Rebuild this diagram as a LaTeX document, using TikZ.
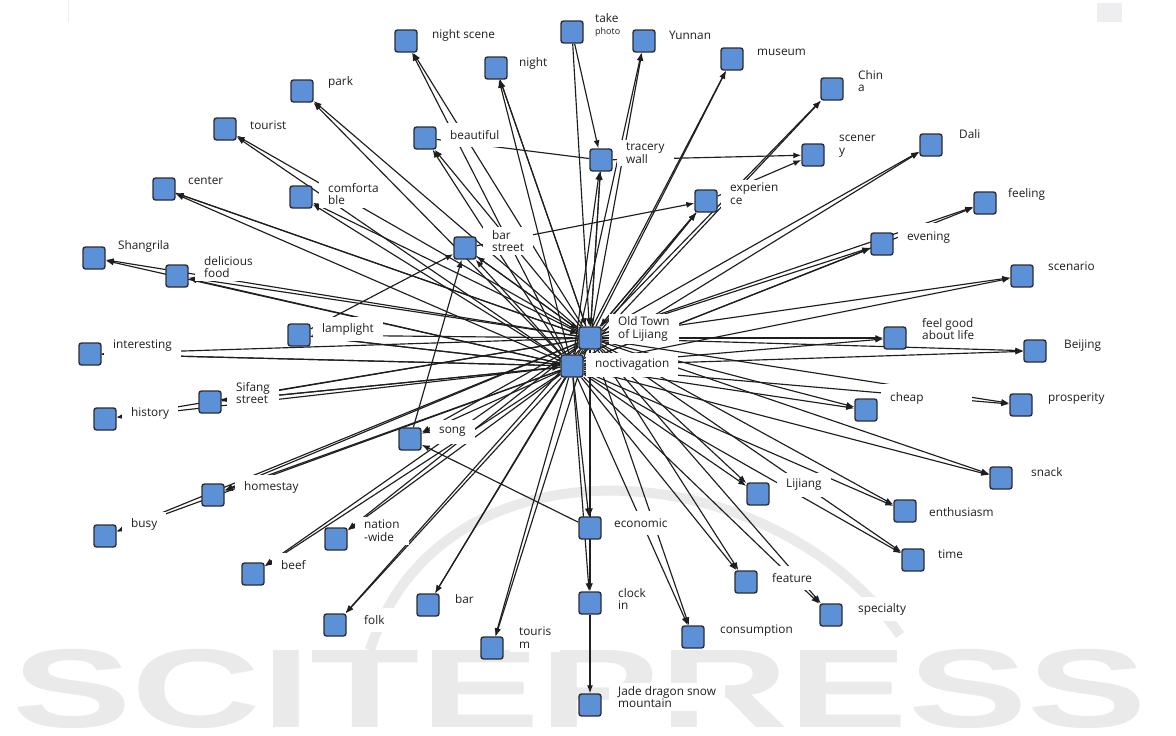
\documentclass[tikz,border=0pt]{standalone}
\usepackage{fontspec}
\setmainfont{Open Sans}
\newfontfamily\wmfont{Liberation Sans}
\usetikzlibrary{arrows.meta}
\definecolor{boxblue}{RGB}{92,145,215}
\definecolor{boxedge}{RGB}{45,45,50}
\definecolor{ink}{RGB}{30,30,30}
\definecolor{wmgray}{RGB}{234,234,234}
\definecolor{topgray}{RGB}{238,238,240}
\pgfdeclarelayer{wm}
\pgfdeclarelayer{bg}
\pgfsetlayers{wm,bg,main}
\tikzset{
  kbox/.style={draw=boxedge, fill=boxblue, line width=1.4pt, rounded corners=2.5pt, minimum size=22pt, inner sep=0pt},
  lbl/.style={anchor=west, fill=white, inner xsep=9pt, inner ysep=3pt, minimum height=24pt, align=left, font=\fontsize{11.8}{12.8}\selectfont, text=ink},
  e/.style={draw=ink, line width=1.15pt, -{Latex[length=8pt,width=6pt]}},
  p/.style={draw=ink, line width=1.15pt},
}
\begin{document}
\begin{tikzpicture}[x=1pt,y=-1pt]
\useasboundingbox (0,0) rectangle (1176,736);
\begin{pgfonlayer}{wm}
\fill[white] (0,0) rectangle (1176,736);
\fill[topgray] (1097,3) rectangle (1122,22);
\draw[topgray, line width=0.8pt] (68,0) -- (68,22);
\node[anchor=base west, inner sep=0pt, text=wmgray] (wm) at (12,727) {\scalebox{1.6}[1]{\wmfont\fontsize{112}{112}\selectfont\bfseries SCITEPRESS}};
\draw[wmgray, line width=10pt] (370,650) .. controls (440,430) and (770,450) .. (900,635);
\end{pgfonlayer}

% boxes
\node[kbox] (ns) at (406,41) {};
\node[kbox] (nt) at (496,68) {};
\node[kbox] (tp) at (572,32) {};
\node[kbox] (yn) at (644,41) {};
\node[kbox] (mu) at (732,59) {};
\node[kbox] (ch) at (832,89) {};
\node[kbox] (sc) at (813,155) {};
\node[kbox] (dl) at (931,145) {};
\node[kbox] (fe) at (985,203) {};
\node[kbox] (ev) at (882,244) {};
\node[kbox] (sr) at (1022,276) {};
\node[kbox] (fg) at (895,338) {};
\node[kbox] (bj) at (1035,351) {};
\node[kbox] (pr) at (1021,405) {};
\node[kbox] (cp) at (866,410) {};
\node[kbox] (sn) at (1001,478) {};
\node[kbox] (en) at (905,511) {};
\node[kbox] (tm) at (913,560) {};
\node[kbox] (sp) at (831,615) {};
\node[kbox] (ft) at (746,582) {};
\node[kbox] (lj) at (758,494) {};
\node[kbox] (cs) at (693,637) {};
\node[kbox] (jd) at (590,705) {};
\node[kbox] (ci) at (590,603) {};
\node[kbox] (ec) at (590,528) {};
\node[kbox] (tr) at (492,648) {};
\node[kbox] (br) at (428,605) {};
\node[kbox] (fk) at (335,625) {};
\node[kbox] (bf) at (253,574) {};
\node[kbox] (nw) at (336,539) {};
\node[kbox] (bs) at (105,536) {};
\node[kbox] (hs) at (213,495) {};
\node[kbox] (sg) at (410,439) {};
\node[kbox] (hi) at (105,419) {};
\node[kbox] (sf) at (210,402) {};
\node[kbox] (it) at (90,354) {};
\node[kbox] (lp) at (299,335) {};
\node[kbox] (sh) at (94,258) {};
\node[kbox] (df) at (177,276) {};
\node[kbox] (ce) at (164,189) {};
\node[kbox] (cf) at (301,197) {};
\node[kbox] (tu) at (225,129) {};
\node[kbox] (pk) at (302,91) {};
\node[kbox] (bt) at (425,138) {};
\node[kbox] (bst) at (465,248) {};
\node[kbox] (tw) at (601,160) {};
\node[kbox] (ex) at (706,201) {};
\node[kbox] (ot) at (590,338) {};
\node[kbox] (nv) at (572,366) {};

% labels
\node[lbl] (nsl) at (423,35) {night scene};
\node[lbl] (ntl) at (510,63) {night};
\node[lbl] (tpl) at (586,25) {take\\{\fontsize{9}{10}\selectfont photo}};
\node[lbl] (ynl) at (660,35) {Yunnan};
\node[lbl] (mul) at (748,52) {museum};
\node[lbl] (chl) at (849,81) {Chin\\a};
\node[lbl] (scl) at (830,146) {scener\\y};
\node[lbl] (dll) at (950,134) {Dali};
\node[lbl] (fel) at (999,194) {feeling};
\node[lbl, minimum height=30pt] (evl) at (898,238) {evening};
\node[lbl] (srl) at (1039,266) {scenario};
\node[lbl] (fgl) at (913,329) {feel good\\about life};
\node[lbl] (bjl) at (1055,346) {Beijing};
\node[lbl] (prl) at (1039,399) {prosperity};
\node[lbl, minimum height=28pt] (cpl) at (881,398) {cheap\hspace*{40pt}};
\node[lbl] (snl) at (1022,472) {snack};
\node[lbl] (enl) at (920,512) {enthusiasm};
\node[lbl] (tml) at (929,554) {time};
\node[lbl] (spl) at (849,609) {specialty};
\node[lbl] (ftl) at (763,578) {feature};
\node[lbl] (ljl) at (777,485) {Lijiang};
\node[lbl] (csl) at (711,631) {consumption};
\node[lbl] (jdl) at (609,697) {Jade dragon snow\\mountain};
\node[lbl] (cil) at (609,599) {clock\\in};
\node[lbl] (ecl) at (605,523) {economic};
\node[lbl] (trl) at (510,638) {touris\\m};
\node[lbl] (brl) at (446,599) {bar};
\node[lbl] (fkl) at (355,620) {folk};
\node[lbl] (bfl) at (272,565) {beef};
\node[lbl] (nwl) at (355,531) {nation\\-wide};
\node[lbl] (bsl) at (122,524) {busy};
\node[lbl] (hsl) at (235,487) {homestay};
\node[lbl] (sgl) at (430,432) {song};
\node[lbl] (hil) at (122,413) {history};
\node[lbl] (sfl) at (227,393) {Sifang\\street};
\node[lbl] (itl) at (104,346) {interesting};
\node[lbl] (lpl) at (313,329) {lamplight};
\node[lbl] (shl) at (109,246) {Shangrila};
\node[lbl] (dfl) at (195,267) {delicious\\food};
\node[lbl] (cel) at (179,181) {center};
\node[lbl] (cfl) at (319,194) {comforta\\ble};
\node[lbl] (tul) at (241,125) {tourist};
\node[lbl] (pkl) at (319,82) {park};
\node[lbl] (btl) at (441,135) {beautiful};
\node[lbl] (bstl) at (483,241) {bar\\street};
\node[lbl] (twl) at (617,153) {tracery\\wall};
\node[lbl] (exl) at (721,194) {experien\\ce};
\node[lbl] (otl) at (609,329) {Old Town\\of Lijiang};
\node[lbl] (nvl) at (586,365) {noctivagation};

% connectors
\begin{pgfonlayer}{bg}
\foreach \n in {ns,nt,yn,mu,ch,dl,fe,ev,sr,fg,bj,pr,cp,sn,en,tm,sp,ft,lj,cs,ci,ec,tr,br,fk,bf,nw,bs,hs,sg,hi,sf,it,lp,sh,df,ce,cf,tu,pk,bt,bst,tw,ex} {
  \draw[e] (ot) -- (\n);
  \draw[e] (nv) -- (\n);
}
\draw[e] (tp) -- (ot);
\draw[e] (tp) -- (tw);
\draw[p] (bt) -- (tw);
\draw[e] (tw) -- (sc);
\draw[e] (ex) -- (sc);
\draw[e] (bst) -- (ex);
\draw[e] (sg) -- (bst);
\draw[e] (lp) -- (bst);
\draw[e] (ec) -- (sg);
\draw[e] (ci) -- (jd);
\draw[e] (it) -- (nv);
\draw[e] (sf) -- (nv);
\draw[e] (lp) -- (nv);
\draw[e] (ce) -- (ot);
\draw[e] (bst) -- (ot);
\draw[e] (tw) -- (ot);
\draw[e] (nt) -- (ot);
\draw[e] (ex) -- (ot);
\end{pgfonlayer}
\end{tikzpicture}
\end{document}
